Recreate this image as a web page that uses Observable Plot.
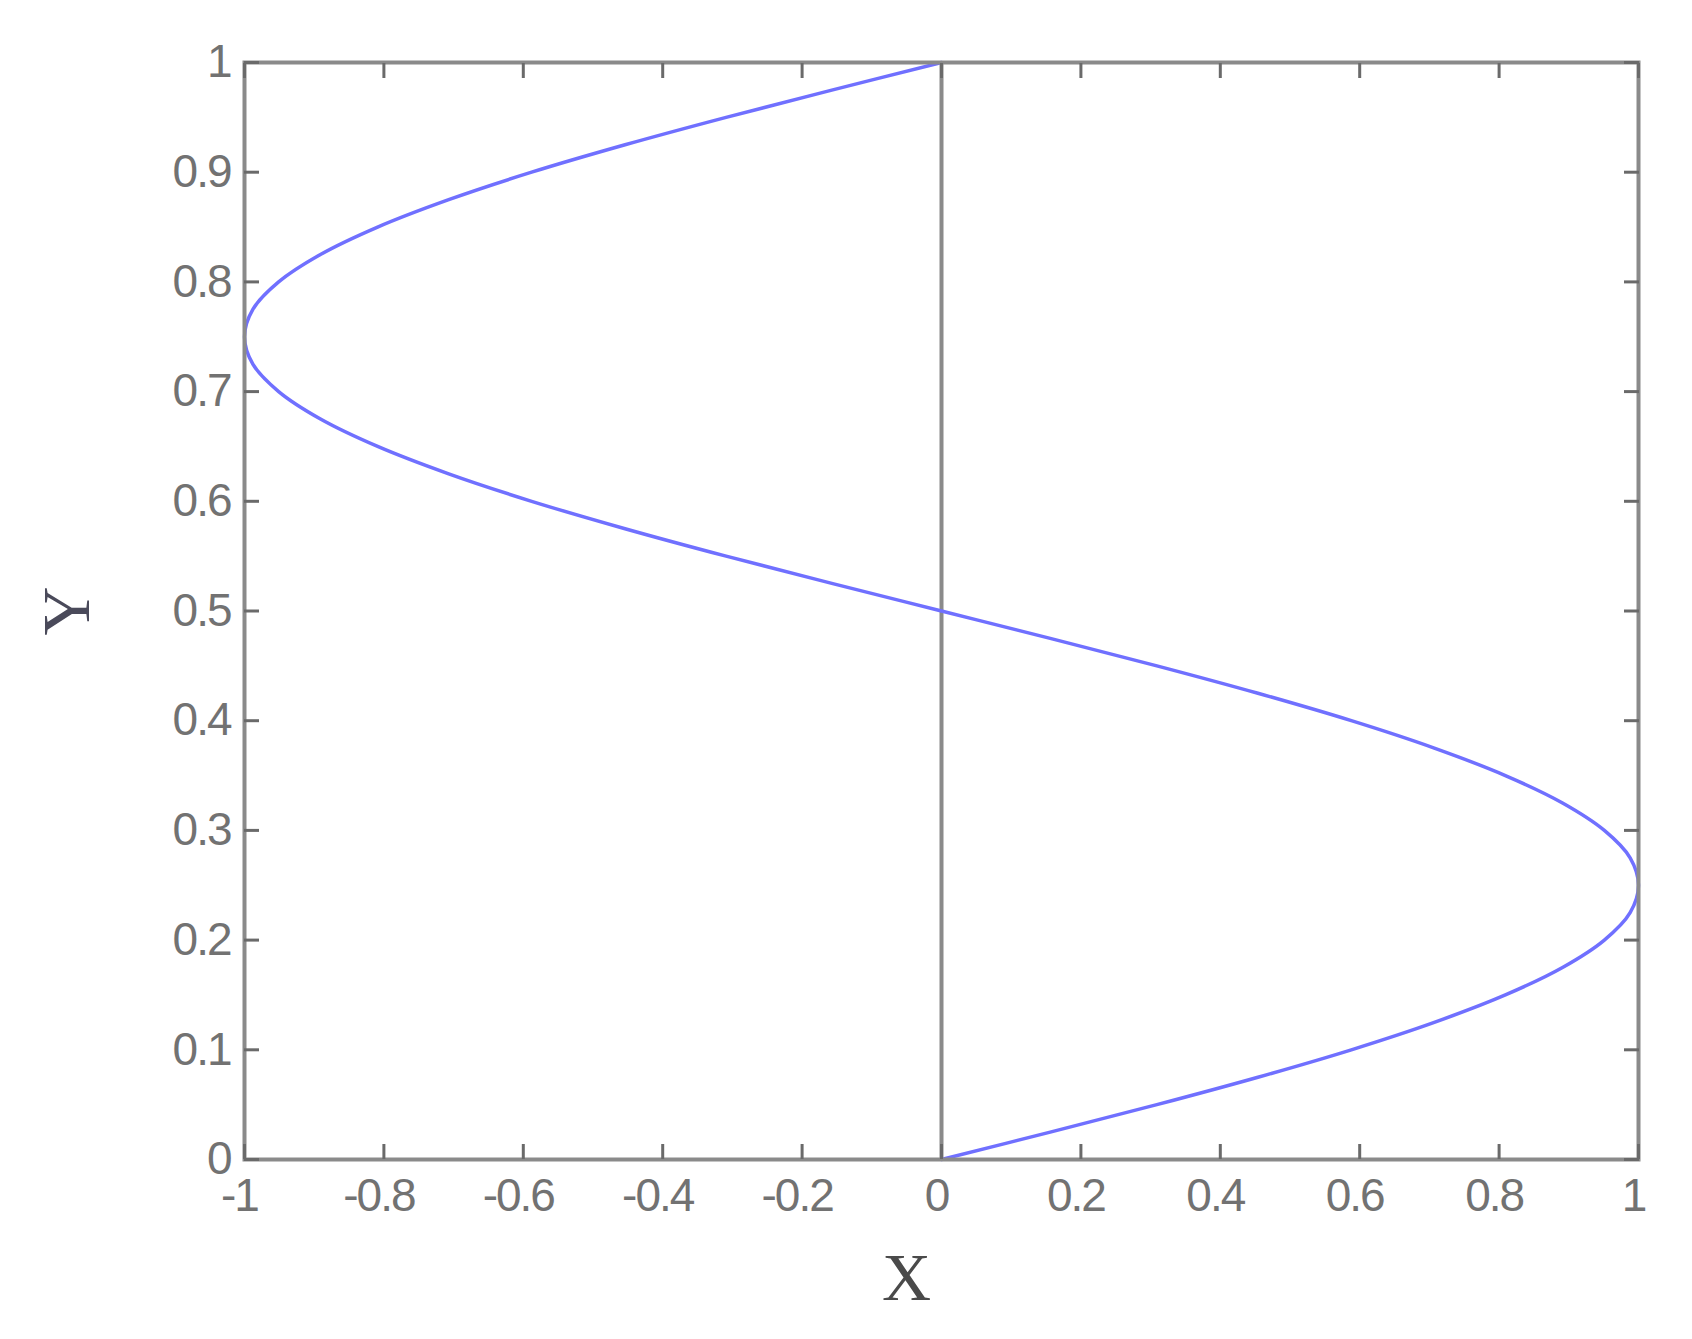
<!DOCTYPE html>
<html>
<head>
<meta charset="utf-8">
<script src="https://cdn.jsdelivr.net/npm/d3@7"></script>
<script src="https://cdn.jsdelivr.net/npm/@observablehq/plot@0.6"></script>
<style>
  html, body { margin: 0; padding: 0; background: #fff; }
  g[aria-label="y-axis tick label"] text, g[aria-label="x-axis tick label"] text { letter-spacing: -2px; }
</style>
</head>
<body>
<div id="chart"></div>
<script>
// Curve values (y ascending, x position at each y)
const curveY = [0, 0.025, 0.05, 0.075, 0.1, 0.125, 0.15, 0.175, 0.2, 0.225, 0.25,
  0.275, 0.3, 0.325, 0.35, 0.375, 0.4, 0.425, 0.45, 0.475, 0.5,
  0.525, 0.55, 0.575, 0.6, 0.625, 0.65, 0.675, 0.7, 0.725, 0.75,
  0.775, 0.8, 0.825, 0.85, 0.875, 0.9, 0.925, 0.95, 0.975, 1];
const curveX = [0, 0.156, 0.309, 0.454, 0.588, 0.707, 0.809, 0.891, 0.951, 0.988, 1,
  0.988, 0.951, 0.891, 0.809, 0.707, 0.588, 0.454, 0.309, 0.156, 0,
  -0.156, -0.309, -0.454, -0.588, -0.707, -0.809, -0.891, -0.951, -0.988, -1,
  -0.988, -0.951, -0.891, -0.809, -0.707, -0.588, -0.454, -0.309, -0.156, 0];

const xTicks = [-1, -0.8, -0.6, -0.4, -0.2, 0, 0.2, 0.4, 0.6, 0.8, 1];
const xTickLabels = ["-1", "-0.8", "-0.6", "-0.4", "-0.2", "0", "0.2", "0.4", "0.6", "0.8", "1"];
const yTicks = [0, 0.1, 0.2, 0.3, 0.4, 0.5, 0.6, 0.7, 0.8, 0.9, 1];
const yTickLabels = ["0", "0.1", "0.2", "0.3", "0.4", "0.5", "0.6", "0.7", "0.8", "0.9", "1"];
const xLabel = "X";
const yLabel = "Y";

const curve = curveY.map((y, i) => ({x: curveX[i], y}));

const tickColor = "#6a6a6a";
const frameColor = "#8a8a8a";
const labelFont = "'Liberation Serif', 'DejaVu Serif', serif";

const chart = Plot.plot({
  width: 1692,
  height: 1339,
  marginLeft: 244,
  marginRight: 54,
  marginTop: 62,
  marginBottom: 180,
  style: {fontFamily: "'Liberation Sans', Arial, sans-serif", fontSize: "46px", color: "#707070", background: "#fff"},
  x: {domain: [-1, 1], axis: null},
  y: {domain: [0, 1], axis: null},
  marks: [
    // zero line
    Plot.ruleX([0], {stroke: frameColor, strokeWidth: 4}),
    // curve
    Plot.line(curve, {x: "x", y: "y", curve: "catmull-rom", stroke: "#7070ff", strokeWidth: 3.5}),
    // frame
    Plot.frame({stroke: frameColor, strokeWidth: 4}),
    // inward ticks on all four sides
    Plot.axisX(xTicks, {anchor: "bottom", tickSize: -15, fill: "none", stroke: tickColor, strokeWidth: 3, label: null}),
    Plot.axisX(xTicks, {anchor: "top", tickSize: -15, fill: "none", stroke: tickColor, strokeWidth: 3, label: null}),
    Plot.axisY(yTicks, {anchor: "left", tickSize: -15, fill: "none", stroke: tickColor, strokeWidth: 3, label: null}),
    Plot.axisY(yTicks, {anchor: "right", tickSize: -15, fill: "none", stroke: tickColor, strokeWidth: 3, label: null}),
    // tick labels
    Plot.axisX(xTicks, {anchor: "bottom", tickSize: 0, tickPadding: 19, dx: -5, tickFormat: (d) => xTickLabels[xTicks.indexOf(d)], fill: "#727272", label: null}),
    Plot.axisY(yTicks, {anchor: "left", tickSize: 0, tickPadding: 14, tickFormat: (d) => yTickLabels[yTicks.indexOf(d)], fill: "#727272", label: null}),
    // axis titles
    Plot.text([xLabel], {frameAnchor: "bottom", dy: 119, dx: -35, textAnchor: "middle", lineAnchor: "middle", fontFamily: labelFont, fontSize: 68, fill: "#4a4a4a"}),
    Plot.text([yLabel], {frameAnchor: "left", dx: -177, rotate: -90, textAnchor: "middle", lineAnchor: "middle", fontFamily: labelFont, fontSize: 68, fill: "#4a4a5a"})
  ]
});
document.getElementById("chart").appendChild(chart);
</script>
</body>
</html>
